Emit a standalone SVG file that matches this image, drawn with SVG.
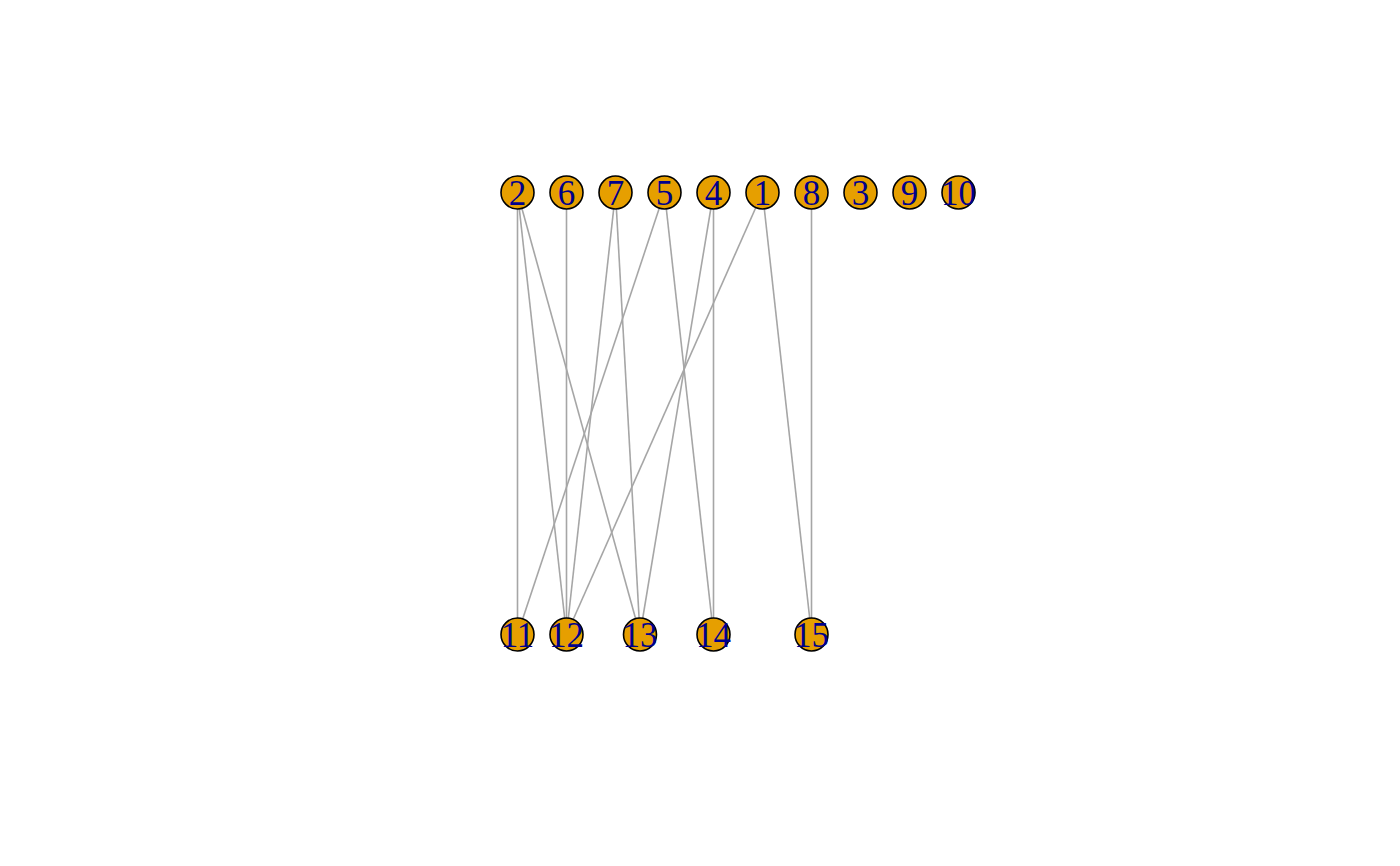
<svg xmlns="http://www.w3.org/2000/svg" width="1400" height="866" viewBox="0 0 1400 866">
<style>
.e{stroke:#A6A6A6;stroke-width:1.6;fill:none}
.n circle{fill:#E69F00;stroke:#000;stroke-width:1.6}
.n text{font-family:"Liberation Serif","DejaVu Serif",serif;font-size:35px;fill:#00008B;text-anchor:middle;dominant-baseline:central}
</style>
<rect width="1400" height="866" fill="#fff"/>
<g id="edges">
<line class="e" x1="517.5" y1="192.5" x2="517.5" y2="634.5"/>
<line class="e" x1="517.5" y1="192.5" x2="566.5" y2="634.5"/>
<line class="e" x1="517.5" y1="192.5" x2="640" y2="634.5"/>
<line class="e" x1="566.5" y1="192.5" x2="566.5" y2="634.5"/>
<line class="e" x1="615.5" y1="192.5" x2="566.5" y2="634.5"/>
<line class="e" x1="615.5" y1="192.5" x2="640" y2="634.5"/>
<line class="e" x1="664.5" y1="192.5" x2="517.5" y2="634.5"/>
<line class="e" x1="664.5" y1="192.5" x2="713.5" y2="634.5"/>
<line class="e" x1="713.5" y1="192.5" x2="713.5" y2="634.5"/>
<line class="e" x1="713.5" y1="192.5" x2="640" y2="634.5"/>
<line class="e" x1="762.5" y1="192.5" x2="566.5" y2="634.5"/>
<line class="e" x1="762.5" y1="192.5" x2="811.5" y2="634.5"/>
<line class="e" x1="811.5" y1="192.5" x2="811.5" y2="634.5"/>
</g>
<g id="n2" class="n"><circle cx="517.5" cy="192.5" r="16.5"/><text x="517.5" y="193.5">2</text></g>
<g id="n6" class="n"><circle cx="566.5" cy="192.5" r="16.5"/><text x="566.5" y="193.5">6</text></g>
<g id="n7" class="n"><circle cx="615.5" cy="192.5" r="16.5"/><text x="615.5" y="193.5">7</text></g>
<g id="n5" class="n"><circle cx="664.5" cy="192.5" r="16.5"/><text x="664.5" y="193.5">5</text></g>
<g id="n4" class="n"><circle cx="713.5" cy="192.5" r="16.5"/><text x="713.5" y="193.5">4</text></g>
<g id="n1" class="n"><circle cx="762.5" cy="192.5" r="16.5"/><text x="762.5" y="193.5">1</text></g>
<g id="n8" class="n"><circle cx="811.5" cy="192.5" r="16.5"/><text x="811.5" y="193.5">8</text></g>
<g id="n3" class="n"><circle cx="860.5" cy="192.5" r="16.5"/><text x="860.5" y="193.5">3</text></g>
<g id="n9" class="n"><circle cx="909.5" cy="192.5" r="16.5"/><text x="909.5" y="193.5">9</text></g>
<g id="n10" class="n"><circle cx="958.5" cy="192.5" r="16.5"/><text x="958.5" y="193.5">10</text></g>
<g id="n11" class="n"><circle cx="517.5" cy="634.5" r="16.5"/><text x="517.5" y="635.5">11</text></g>
<g id="n12" class="n"><circle cx="566.5" cy="634.5" r="16.5"/><text x="566.5" y="635.5">12</text></g>
<g id="n13" class="n"><circle cx="640" cy="634.5" r="16.5"/><text x="640" y="635.5">13</text></g>
<g id="n14" class="n"><circle cx="713.5" cy="634.5" r="16.5"/><text x="713.5" y="635.5">14</text></g>
<g id="n15" class="n"><circle cx="811.5" cy="634.5" r="16.5"/><text x="811.5" y="635.5">15</text></g>
</svg>
